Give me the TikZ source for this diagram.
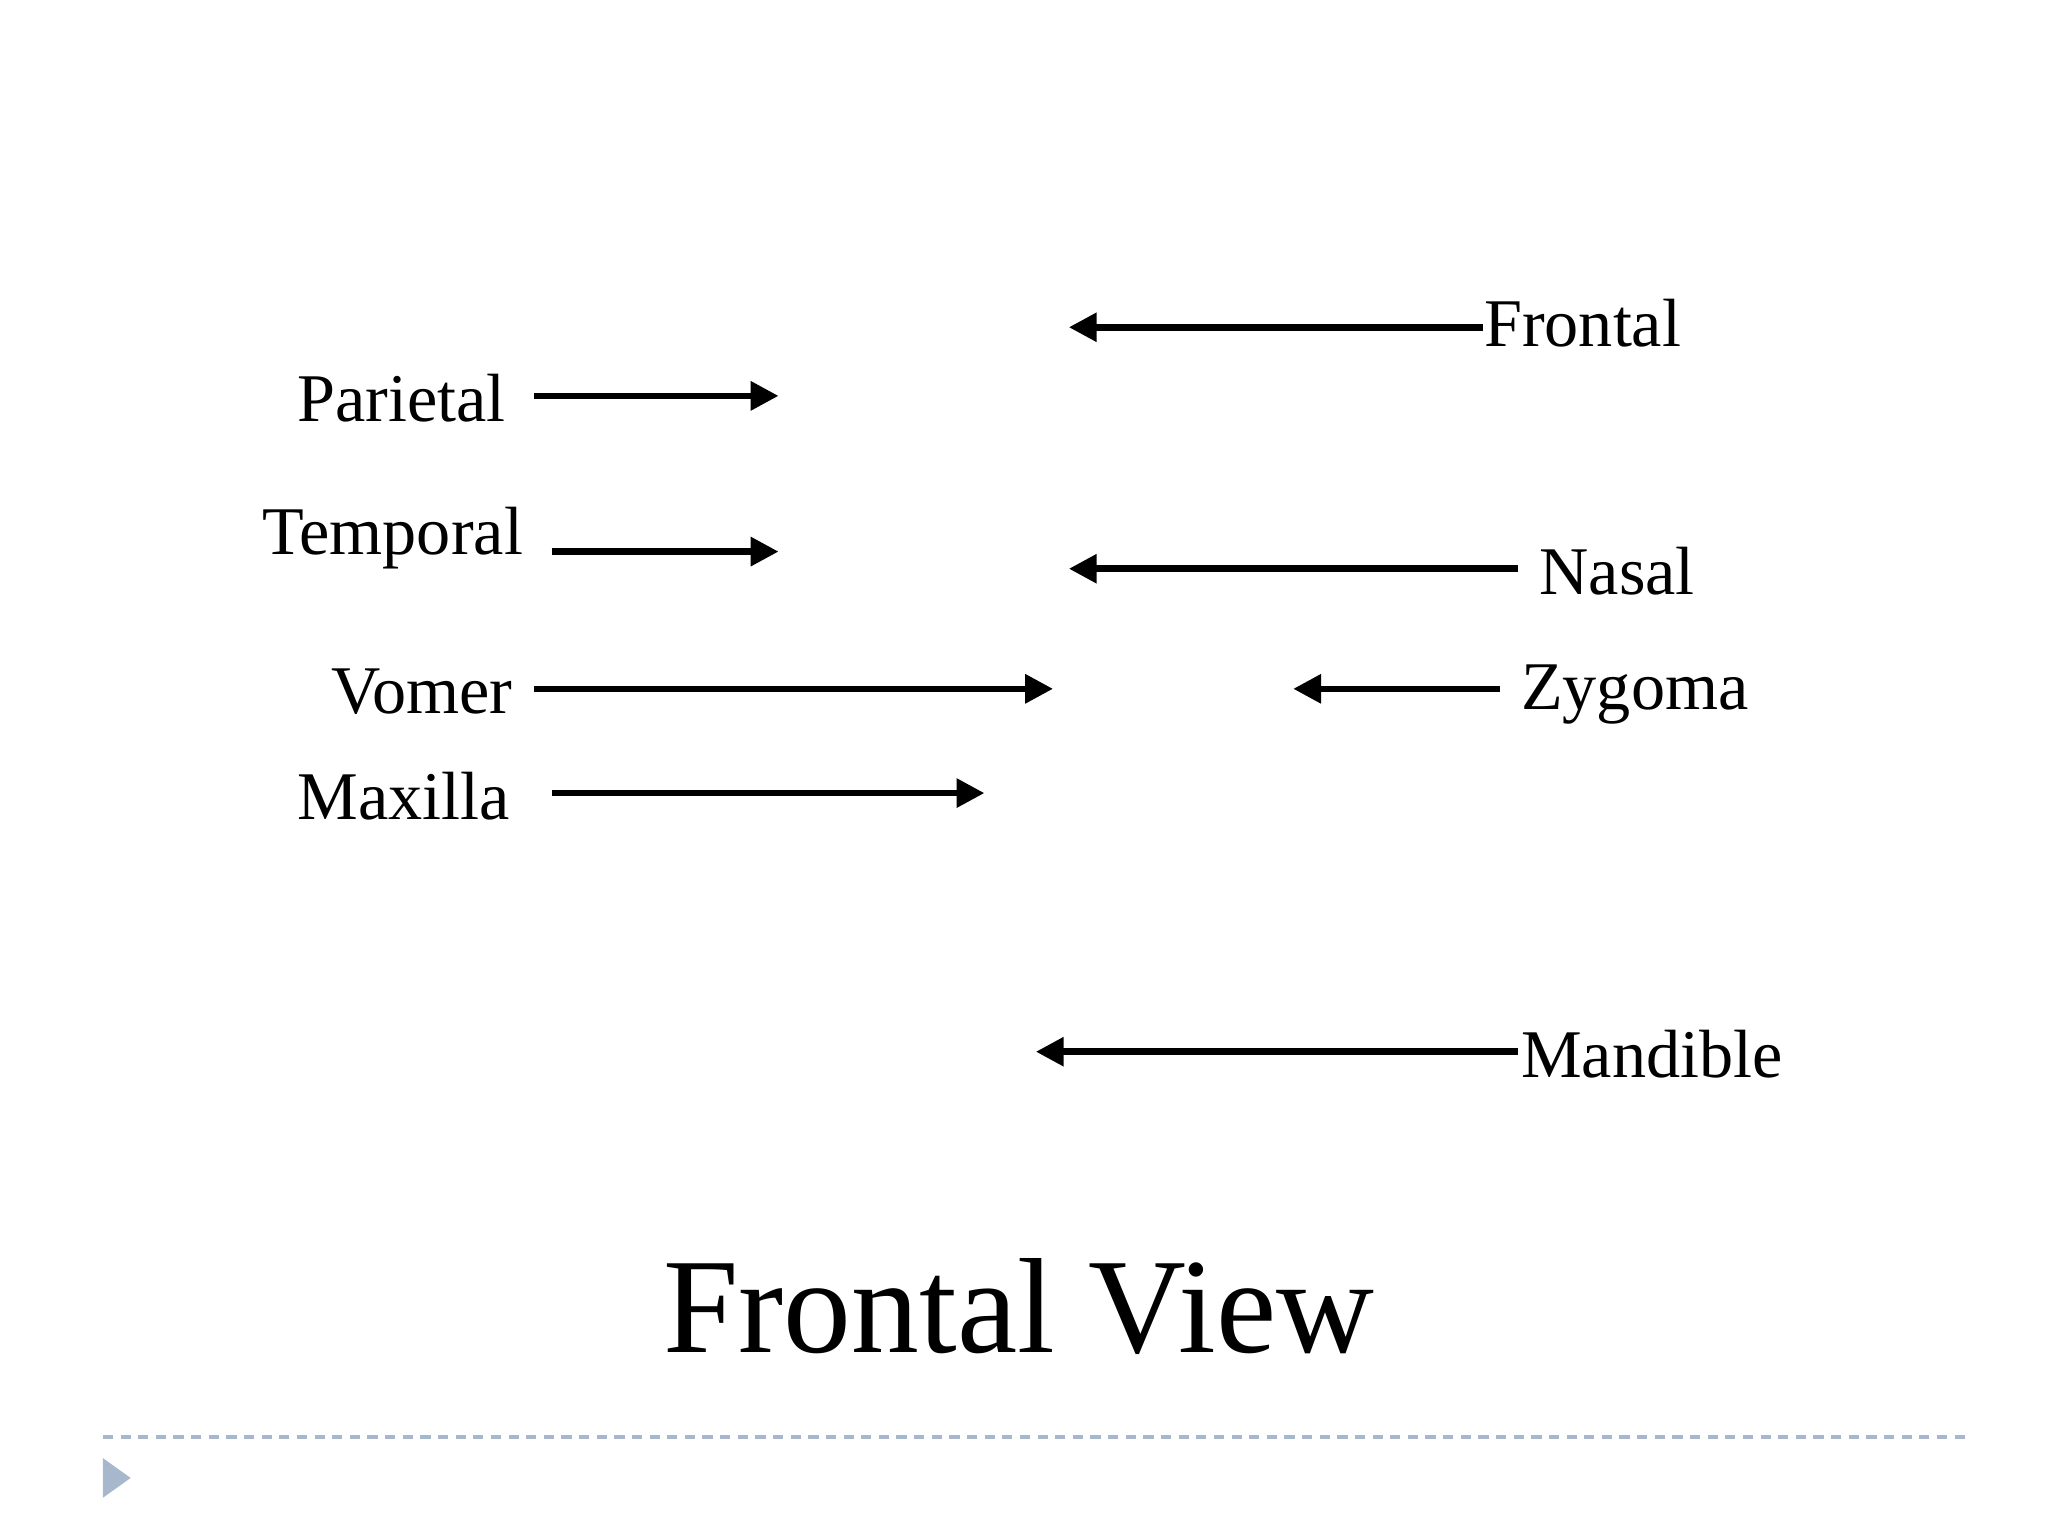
\documentclass[tikz,border=0pt]{standalone}
\usepackage{fontspec}
\setmainfont{Liberation Serif}
\usetikzlibrary{arrows.meta}
\definecolor{deco}{HTML}{A7B8CC}
\begin{document}
\begin{tikzpicture}[x=0.01cm,y=-0.01cm,
  lbl/.style={font=\fontsize{14.7pt}{17pt}\selectfont,inner sep=0pt},
  arr/.style={line width=1.4pt,-{Triangle[length=6pt,width=6pt]}}]
\useasboundingbox (0,0) rectangle (1552,1164);
\node[lbl,anchor=west] (frontal) at (1124,245) {Frontal};
\node[lbl,anchor=east] (parietal) at (384,302) {Parietal};
\node[lbl,anchor=east] (temporal) at (397,408) {Temporal};
\node[lbl,anchor=west] (nasal) at (1166,433) {Nasal};
\node[lbl,anchor=east] (vomer) at (389,524) {Vomer};
\node[lbl,anchor=west] (zygoma) at (1152,526) {Zygoma};
\node[lbl,anchor=east] (maxilla) at (387,603) {Maxilla};
\node[lbl,anchor=west] (mandible) at (1152,799) {Mandible};
\coordinate (a1) at (810,248);
\coordinate (a2) at (590,300);
\coordinate (a3) at (590,418);
\coordinate (a4) at (810,431);
\coordinate (a5) at (798,522);
\coordinate (a6) at (980,522);
\coordinate (a7) at (746,601);
\coordinate (a8) at (785,797);
\draw[arr] (frontal.west |- a1) -- (a1);
\draw[arr] (405,300) coordinate (p) -- (a2);
\draw[arr] (418,418) coordinate (t) -- (a3);
\draw[arr] (1150,431) coordinate (n) -- (a4);
\draw[arr] (405,522) coordinate (v) -- (a5);
\draw[arr] (1137,522) coordinate (z) -- (a6);
\draw[arr] (418,601) coordinate (m) -- (a7);
\draw[arr] (1150,797) coordinate (md) -- (a8);
\node[font=\fontsize{29.2pt}{34pt}\selectfont,inner sep=0pt] (title) at (772,990) {Frontal View};
\draw[deco,line width=0.9pt,dash pattern=on 2.2pt off 1.6pt] (78,1089) coordinate (d1) -- (1490,1089) coordinate (d2);
\fill[deco] (78,1105) -- (99,1120) -- (78,1135) -- cycle;
\end{tikzpicture}
\end{document}
